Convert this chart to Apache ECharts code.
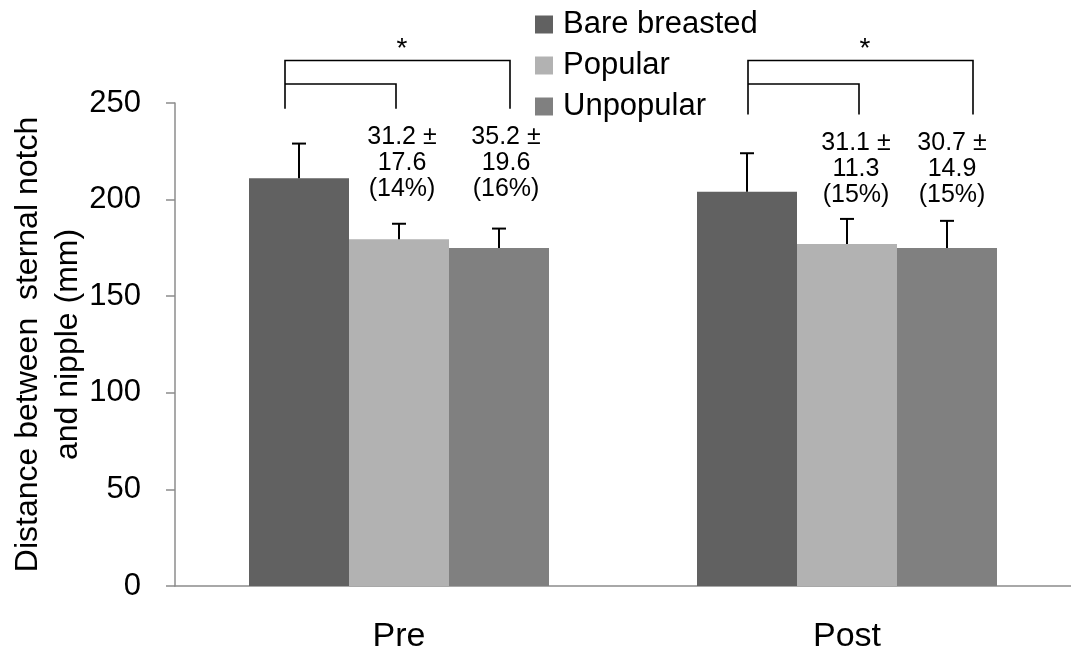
<!DOCTYPE html>
<html>
<head>
<meta charset="utf-8">
<script src="https://cdn.jsdelivr.net/npm/echarts@6/dist/echarts.min.js"></script>
<style>
  html, body { margin: 0; padding: 0; background: #fff; }
  #main { width: 1071px; height: 651px; }
</style>
</head>
<body>
<div id="main"></div>
<script>
// data
var categories = ['Pre', 'Post'];
var seriesNames = ['Bare breasted', 'Popular', 'Unpopular'];
var bareValues = [211, 204];
var popularValues = [179.5, 177];
var unpopularValues = [175, 175];
// upper error (SD) for each bar
var bareErr = [18, 20];
var popularErr = [8, 13];
var unpopularErr = [10, 14];
// difference labels above popular / unpopular bars
var diffLabels = [
  ['31.2 \u00b1\n17.6\n(14%)', '35.2 \u00b1\n19.6\n(16%)'],
  ['31.1 \u00b1\n11.3\n(15%)', '30.7 \u00b1\n14.9\n(15%)']
];
var starLabels = ['*', '*'];
var yTicks = { min: 0, max: 250, interval: 50 };

var colors = ['#616161', '#b2b2b2', '#808080'];
var font = 'Liberation Sans, Arial, sans-serif';
var barW = 100;

var myChart = echarts.init(document.getElementById('main'));

// error bar data: [category, series index, value, err]
var errData = [];
[[bareValues, bareErr], [popularValues, popularErr], [unpopularValues, unpopularErr]].forEach(function (s, si) {
  s[0].forEach(function (v, ci) {
    errData.push([ci, si, v, s[1][ci]]);
  });
});

// bracket offsets in px from category centre (left, mid, right) and text offsets
var bracketX = [[-114, -3, 111], [-99, 12, 126]];
var bracketBottom = [247, 244];
var textX = [[3, 107], [9, 105]];
var textY = [232, 228.5];
var starX = [3, 18];

var option = {
  animation: false,
  color: colors,
  textStyle: { fontFamily: font },
  grid: { left: 175, right: 0, top: 103, bottom: 65, containLabel: false, outerBoundsMode: 'none' },
  legend: {
    orient: 'vertical',
    left: 535,
    top: 9,
    padding: 0,
    itemWidth: 18,
    itemHeight: 18,
    itemGap: 10,
    icon: 'rect',
    data: seriesNames,
    textStyle: { fontSize: 31, lineHeight: 30, color: '#000', fontFamily: font, padding: [0, 0, 0, 5] }
  },
  xAxis: {
    type: 'category',
    data: categories,
    axisLine: { lineStyle: { color: '#8c8c8c', width: 1.5 } },
    axisTick: { length: 12, lineStyle: { color: '#8c8c8c', width: 1.5 } },
    axisLabel: { fontSize: 34, color: '#000', margin: 34, fontFamily: font }
  },
  yAxis: {
    type: 'value',
    min: yTicks.min,
    max: yTicks.max,
    interval: yTicks.interval,
    name: 'Distance between  sternal notch\nand nipple (mm)',
    nameLocation: 'middle',
    nameGap: 87,
    nameMoveOverlap: false,
    nameTextStyle: { fontSize: 32, lineHeight: 40, color: '#000', fontFamily: font },
    splitLine: { show: false },
    axisLine: { show: true, lineStyle: { color: '#8c8c8c', width: 1.5 } },
    axisTick: { show: true, length: 9, lineStyle: { color: '#8c8c8c', width: 1.5 } },
    axisLabel: { fontSize: 31, color: '#000', margin: 34, fontFamily: font }
  },
  series: [
    { name: seriesNames[0], type: 'bar', barWidth: barW, barGap: '0%', data: bareValues },
    { name: seriesNames[1], type: 'bar', barWidth: barW, barGap: '0%', data: popularValues },
    { name: seriesNames[2], type: 'bar', barWidth: barW, barGap: '0%', data: unpopularValues },
    {
      type: 'custom',
      name: 'err',
      data: errData,
      encode: { x: 0, y: 2 },
      z: 5,
      renderItem: function (params, api) {
        var base = api.coord([api.value(0), api.value(2)]);
        var top = api.coord([api.value(0), api.value(2) + api.value(3)]);
        var x = base[0] + (api.value(1) - 1) * barW;
        var st = { stroke: '#000', lineWidth: 2 };
        return {
          type: 'group',
          children: [
            { type: 'line', shape: { x1: x, y1: base[1], x2: x, y2: top[1] }, style: st },
            { type: 'line', shape: { x1: x - 7, y1: top[1], x2: x + 7, y2: top[1] }, style: st }
          ]
        };
      }
    },
    {
      type: 'custom',
      name: 'brackets',
      data: categories.map(function (c, i) { return [i, 272]; }),
      encode: { x: 0, y: 1 },
      z: 5,
      clip: false,
      renderItem: function (params, api) {
        var i = params.dataIndex;
        var c = api.coord([i, 272]);
        var inner = api.coord([i, 259.8])[1];
        var bot = api.coord([i, bracketBottom[i]])[1];
        var bx = bracketX[i].map(function (o) { return c[0] + o; });
        var kids = [
          { type: 'polyline', shape: { points: [[bx[0], bot], [bx[0], c[1]], [bx[2], c[1]], [bx[2], bot]] }, style: { stroke: '#000', lineWidth: 1.6, fill: null } },
          { type: 'polyline', shape: { points: [[bx[0], inner], [bx[1], inner], [bx[1], bot]] }, style: { stroke: '#000', lineWidth: 1.6, fill: null } },
          { type: 'text', x: c[0] + starX[i], y: c[1] + 3, style: { text: starLabels[i], fontSize: 28, fontFamily: font, fill: '#000', align: 'center', verticalAlign: 'bottom' } }
        ];
        var ty = api.coord([i, textY[i]])[1];
        diffLabels[i].forEach(function (t, k) {
          kids.push({
            type: 'text', x: c[0] + textX[i][k], y: ty - 14,
            style: { text: t, fontSize: 25, lineHeight: 26, fontFamily: font, fill: '#000', align: 'center', verticalAlign: 'top' }
          });
        });
        return { type: 'group', children: kids };
      }
    }
  ]
};

myChart.setOption(option);
</script>
</body>
</html>
